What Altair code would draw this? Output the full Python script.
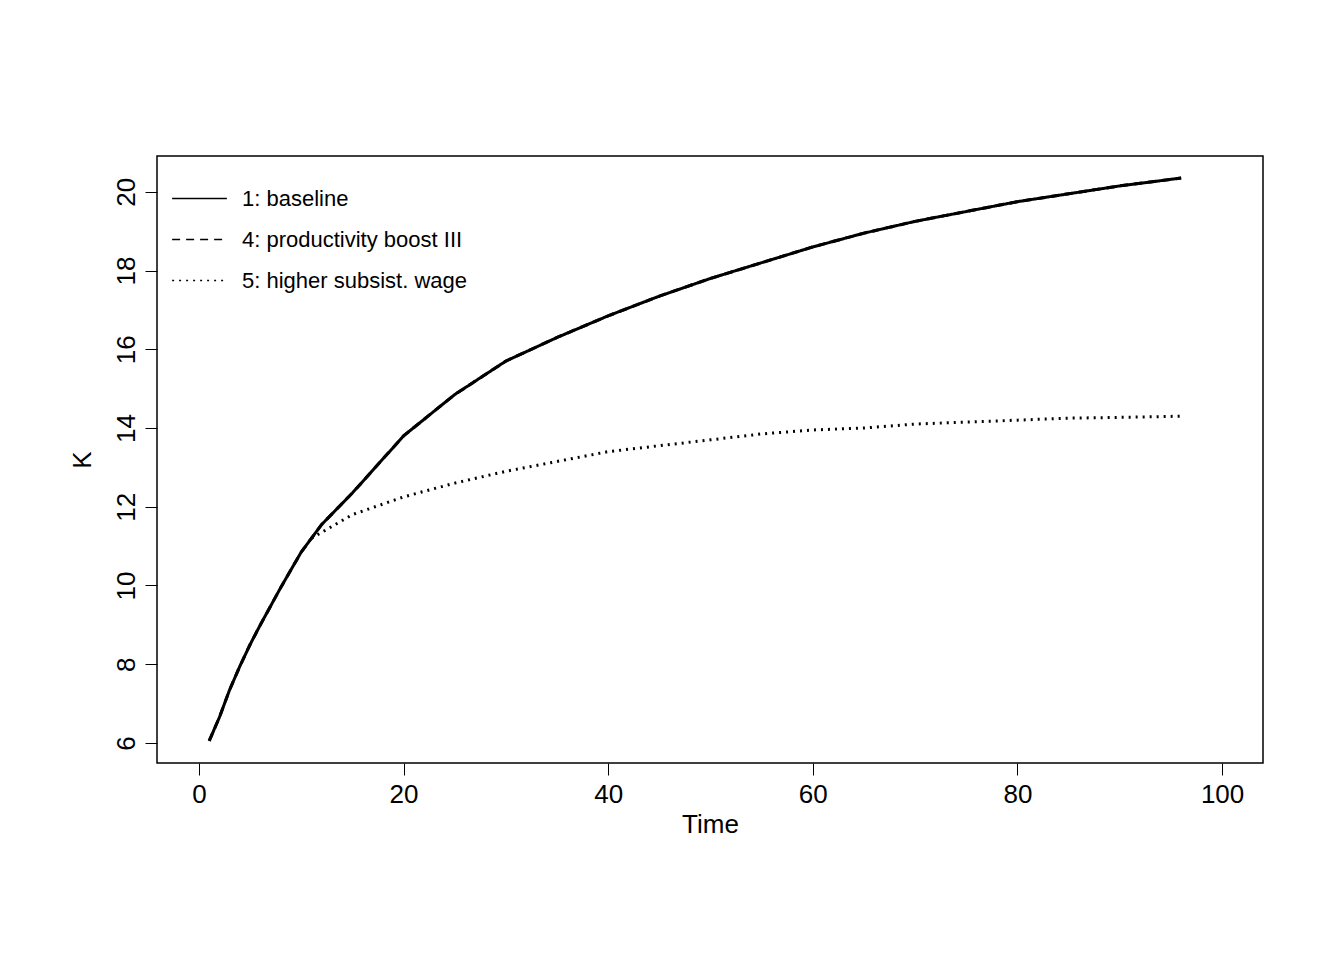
import altair as alt
import pandas as pd

# baseline (and productivity boost III, which lies on top of it)
base_t = [1, 2, 3, 4, 5, 6, 8, 10, 12, 15, 20, 25, 30, 35, 40, 45, 50, 55, 60, 65, 70, 75, 80, 85, 90, 96]
base_k = [6.05, 6.65, 7.35, 7.95, 8.5, 9.0, 9.95, 10.85, 11.55, 12.35, 13.8, 14.85, 15.7, 16.3, 16.85, 17.35, 17.8, 18.2, 18.6, 18.95, 19.25, 19.5, 19.75, 19.95, 20.15, 20.35]

# higher subsistence wage
wage_t = [11, 12, 15, 20, 25, 30, 35, 40, 45, 50, 55, 60, 65, 70, 75, 80, 85, 90, 96]
wage_k = [11.2, 11.35, 11.8, 12.25, 12.6, 12.9, 13.15, 13.4, 13.55, 13.7, 13.85, 13.95, 14.0, 14.1, 14.15, 14.2, 14.25, 14.27, 14.3]

names = ["1: baseline", "4: productivity boost III", "5: higher subsist. wage"]

rows = []
for t, k in zip(base_t, base_k):
    rows.append({"t": t, "K": k, "s": names[1]})
for t, k in zip(base_t, base_k):
    rows.append({"t": t, "K": k, "s": names[0]})
for t, k in zip(wage_t, wage_k):
    rows.append({"t": t, "K": k, "s": names[2]})
df = pd.DataFrame(rows)

chart = alt.Chart(df).mark_line(color="black", strokeWidth=3).encode(
    x=alt.X("t:Q", title="Time",
            scale=alt.Scale(domain=[-4.1, 104], nice=False, zero=False),
            axis=alt.Axis(values=[0, 20, 40, 60, 80, 100], grid=False, domain=False,
                          tickSize=12, labelFontSize=26, titleFontSize=26,
                          labelPadding=6, titlePadding=4, titleFontWeight="normal")),
    y=alt.Y("K:Q", title="K",
            scale=alt.Scale(domain=[5.49, 20.91], nice=False, zero=False),
            axis=alt.Axis(values=[6, 8, 10, 12, 14, 16, 18, 20], grid=False, domain=False,
                          tickSize=12, labelFontSize=26, titleFontSize=26, labelAngle=270,
                          labelAlign="center", labelBaseline="bottom", labelPadding=6,
                          titlePadding=18, titleFontWeight="normal")),
    strokeDash=alt.StrokeDash("s:N", sort=names,
                              scale=alt.Scale(domain=names, range=[[1, 0], [8, 6], [2, 5]]),
                              legend=alt.Legend(title=None, orient="top-left", labelFontSize=22,
                                                labelLimit=600, symbolType="stroke", symbolSize=3000,
                                                symbolStrokeWidth=1.5, symbolStrokeColor="black",
                                                rowPadding=1, offset=14, padding=0, labelOffset=14)),
    detail="s:N",
).properties(
    width=1106, height=607, padding={"left": 149, "top": 148, "right": 60, "bottom": 180},
    autosize=alt.AutoSizeParams(type="none")
).configure(
    font="Liberation Sans"
).configure_view(stroke="black", strokeWidth=1.5).configure_axis(
    tickColor="black", labelColor="black", titleColor="black"
)

chart.save("out.html", embed_options={"renderer": "svg", "actions": False})
